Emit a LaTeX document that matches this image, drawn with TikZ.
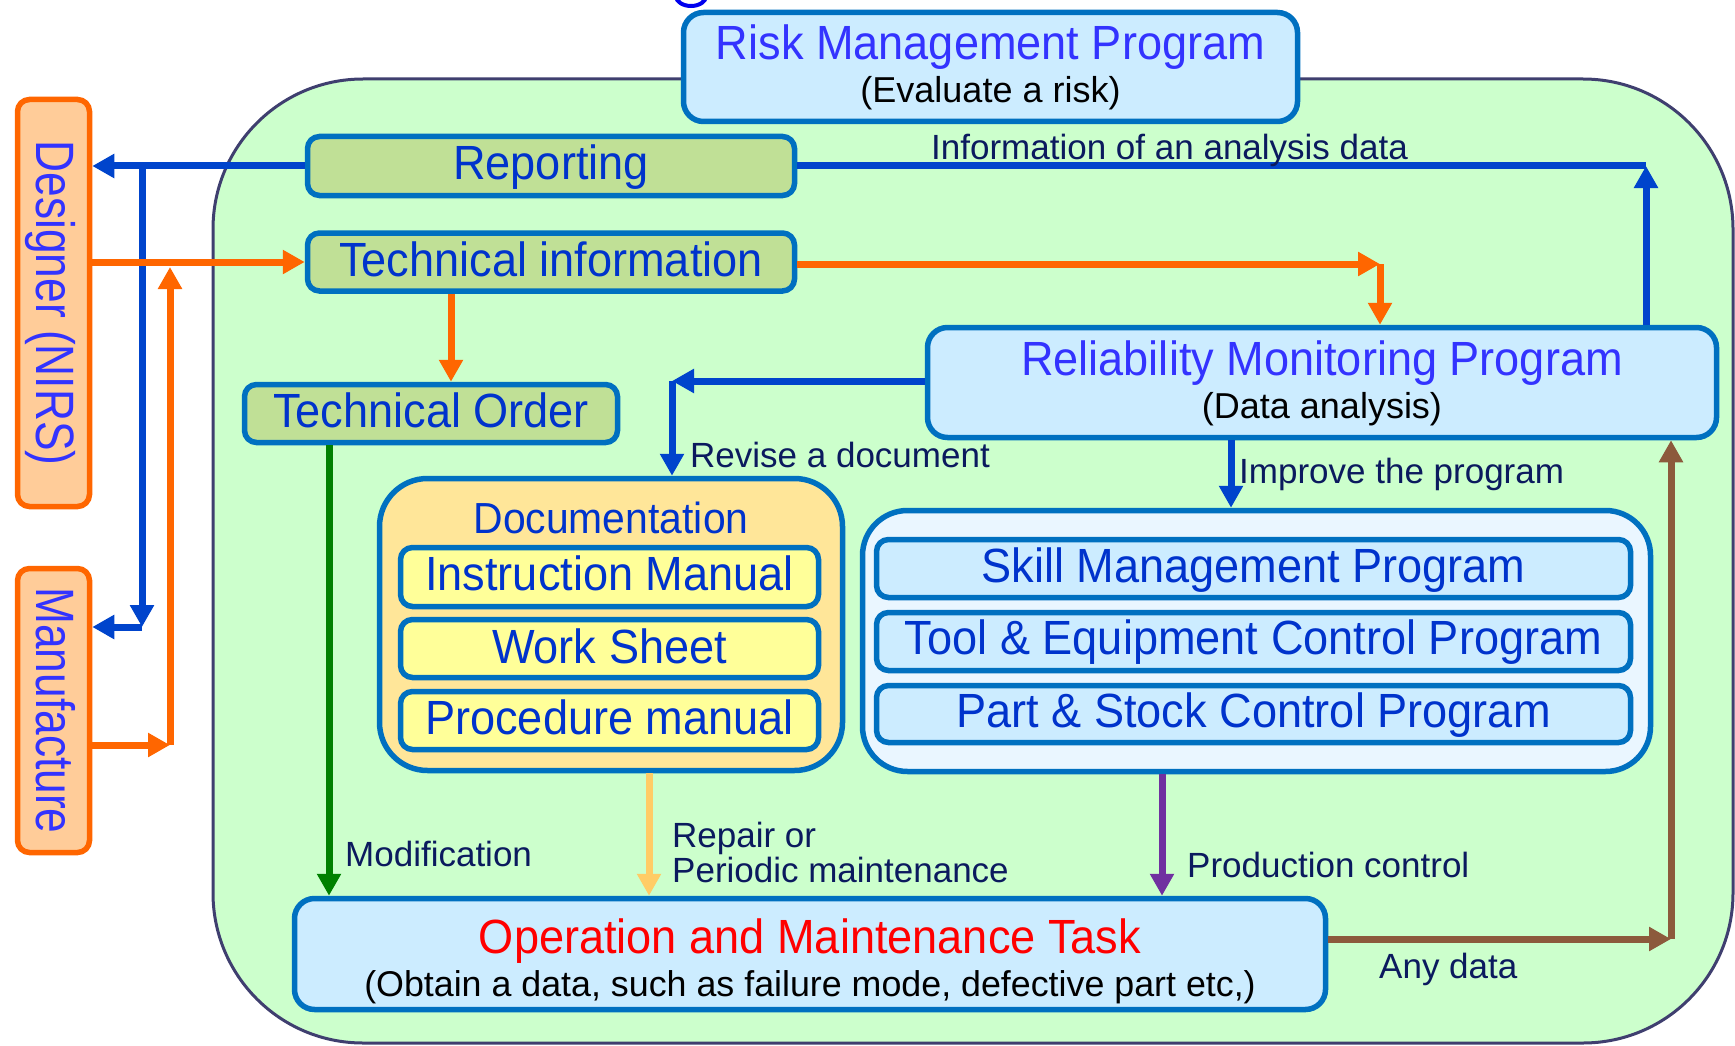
\documentclass[tikz,border=0pt]{standalone}
\usepackage{fontspec}
\setmainfont{Liberation Sans}
\newfontfamily\bigf{Liberation Sans}[FakeStretch=0.94]
\newfontfamily\rotf{Liberation Sans}[FakeStretch=0.82]
\usetikzlibrary{arrows.meta}
\definecolor{bgfill}{HTML}{CCFFCC}
\definecolor{bgline}{HTML}{3F3F6F}
\definecolor{boxb}{HTML}{0070C0}
\definecolor{lblue}{HTML}{CCECFF}
\definecolor{lgreen}{HTML}{C0E096}
\definecolor{docfill}{HTML}{FFE699}
\definecolor{yel}{HTML}{FFFF99}
\definecolor{pale}{HTML}{EAF6FF}
\definecolor{peach}{HTML}{FFCC99}
\definecolor{orng}{HTML}{FF6600}
\definecolor{tblue}{HTML}{3333FF}
\definecolor{dblue}{HTML}{0033CC}
\definecolor{navyc}{HTML}{0B1A5E}
\definecolor{cblue}{HTML}{0044CC}
\definecolor{cgreen}{HTML}{008000}
\definecolor{lorng}{HTML}{FFCC66}
\definecolor{purp}{HTML}{7030A0}
\definecolor{brwn}{HTML}{8C5A3C}
\definecolor{arcblue}{HTML}{0000EE}
\begin{document}
\begin{tikzpicture}[x=1pt,y=-1pt,
  box/.style={draw=boxb, line width=5.5pt, rounded corners=12pt, inner sep=0pt, outer sep=2.75pt},
  obox/.style={draw=orng, fill=peach, line width=5.5pt, rounded corners=12pt, inner sep=0pt, outer sep=2.75pt},
  conn/.style={line width=7pt},
  arr/.style={-{Triangle[length=22pt,width=23pt]}},
  bigtxt/.style={anchor=base, inner sep=0pt, font=\bigf\fontsize{48}{52}\selectfont, text=dblue},
  subtxt/.style={anchor=base, inner sep=0pt, font=\fontsize{36}{40}\selectfont, text=black},
  lbl/.style={anchor=base west, inner sep=0pt, font=\fontsize{35}{38}\selectfont, text=navyc},
  rottxt/.style={anchor=base, inner sep=0pt, rotate=-90, font=\rotf\fontsize{54}{58}\selectfont, text=tblue}]
\useasboundingbox (0,0) rectangle (1735,1046);
\begin{scope}
\clip (0,0) rectangle (1735,1046);
\draw[arcblue, line width=4pt] (691,-4) ellipse [x radius=15pt, y radius=10pt];
\end{scope}
% background
\draw[bgline, fill=bgfill, line width=3pt, rounded corners=150pt] (213,79) rectangle (1733,1043);
% boxes
\node[box, fill=lblue, rounded corners=20pt, minimum width=614pt, minimum height=109pt] (risk) at (990.5,67) {};
\node[box, fill=lgreen, minimum width=487pt, minimum height=59pt] (reporting) at (551,166) {};
\node[box, fill=lgreen, minimum width=487pt, minimum height=58pt] (techinfo) at (551,262) {};
\node[box, fill=lgreen, minimum width=373pt, minimum height=58pt] (techorder) at (431,413.5) {};
\node[obox, minimum width=72pt, minimum height=407pt] (designer) at (53.5,303) {};
\node[obox, minimum width=72pt, minimum height=284pt] (manu) at (53.5,710.5) {};
\node[box, fill=lblue, rounded corners=20pt, minimum width=789pt, minimum height=110pt] (rel) at (1322,382.5) {};
\node[box, fill=docfill, rounded corners=48pt, minimum width=463pt, minimum height=292pt] (doc) at (611,624.5) {};
\node[box, fill=yel, minimum width=418pt, minimum height=59pt] (instr) at (609.5,577) {};
\node[box, fill=yel, minimum width=418pt, minimum height=58pt] (works) at (609.5,648.5) {};
\node[box, fill=yel, minimum width=418pt, minimum height=58pt] (proc) at (609.5,720.5) {};
\node[box, fill=pale, rounded corners=45pt, minimum width=788pt, minimum height=261pt] (grp) at (1256.5,641) {};
\node[box, fill=lblue, minimum width=754pt, minimum height=58pt] (skill) at (1253.5,568.5) {};
\node[box, fill=lblue, minimum width=754pt, minimum height=58pt] (tool) at (1253.5,641.5) {};
\node[box, fill=lblue, minimum width=754pt, minimum height=57pt] (part) at (1253.5,714) {};
\node[box, fill=lblue, rounded corners=20pt, minimum width=1031pt, minimum height=111pt] (op) at (810,954) {};
% texts in boxes
\node[bigtxt, text=tblue] (riskt) at (990.5,60) {Risk Management Program};
\node[subtxt] (risks) at (990.5,103) {(Evaluate a risk)};
\node[bigtxt] (reportingt) at (551,179) {Reporting};
\node[bigtxt] (techinfot) at (551,276) {Technical information};
\node[bigtxt] (techordert) at (431,427) {Technical Order};
\node[rottxt] (designert) at (36,303) {Designer (NIRS)};
\node[rottxt] (manut) at (36,710.5) {Manufacture};
\node[bigtxt, text=tblue] (relt) at (1322,375) {Reliability Monitoring Program};
\node[subtxt] (rels) at (1322,418) {(Data analysis)};
\node[bigtxt, font=\bigf\fontsize{43.5}{46}\selectfont] (doct) at (611,533) {Documentation};
\node[bigtxt] (instrt) at (609.5,590) {Instruction Manual};
\node[bigtxt] (workst) at (609.5,663) {Work Sheet};
\node[bigtxt] (proct) at (609.5,734) {Procedure manual};
\node[bigtxt] (skillt) at (1253.5,582) {Skill Management Program};
\node[bigtxt] (toolt) at (1253.5,654) {Tool \& Equipment Control Program};
\node[bigtxt] (partt) at (1253.5,727) {Part \& Stock Control Program};
\node[bigtxt, text=red] (opt) at (810,953.5) {Operation and Maintenance Task};
\node[subtxt, font=\fontsize{35.8}{40}\selectfont] (ops) at (810,996.5) {(Obtain a data, such as failure mode, defective part etc,)};
% coordinates
\coordinate (bj) at (142,166);
\coordinate (bd) at (142,627);
\coordinate (mo) at (170,745);
\coordinate (mu) at (170,267);
\coordinate (ta) at (451,0);
\coordinate (tr) at (1380,264);
\coordinate (rr) at (1646,166);
\coordinate (rd) at (672,381);
\coordinate (rg) at (1231,0);
\coordinate (tg) at (329,0);
\coordinate (dg) at (649,0);
\coordinate (pg) at (1162,0);
\coordinate (ob) at (1671,939);
% connectors
\draw[conn, cblue, arr] (reporting.west) -- (reporting.west -| designer.east);
\draw[conn, cblue, arr] (bj) -- (bd);
\draw[conn, cblue, arr] (bd) -- (bd -| manu.east);
\draw[conn, orng, arr] (techinfo.west -| designer.east) -- (techinfo.west);
\draw[conn, orng, arr] (mo -| manu.east) -- (mo);
\draw[conn, orng, arr] (mo) -- (mu);
\draw[conn, orng, arr] (ta |- techinfo.south) -- (ta |- techorder.north);
\draw[conn, orng, arr] (techinfo.east |- tr) -- (tr);
\draw[conn, orng, arr] (tr) -- (tr |- rel.north);
\draw[conn, cblue] (rr) -- (reporting.east |- rr);
\draw[conn, cblue, arr] (rr |- rel.north) -- (rr);
\draw[conn, cblue, arr] (rel.west |- rd) -- (rd);
\draw[conn, cblue, arr] (rd) -- (rd |- doc.north);
\draw[conn, cblue, arr] (rg |- rel.south) -- (rg |- grp.north);
\draw[conn, cgreen, arr] (tg |- techorder.south) -- (tg |- op.north);
\draw[conn, lorng, arr] (dg |- doc.south) -- (dg |- op.north);
\draw[conn, purp, arr] (pg |- grp.south) -- (pg |- op.north);
\draw[conn, brwn, arr] (op.east |- ob) -- (ob);
\draw[conn, brwn, arr] (ob) -- (ob |- rel.south);
% labels
\node[lbl] (l1) at (931,160) {Information of an analysis data};
\node[lbl] (l2) at (690,467) {Revise a document};
\node[lbl] (l3) at (1239,483) {Improve the program};
\node[lbl] (l4) at (345,866) {Modification};
\node[lbl] (l5) at (672,847) {Repair or};
\node[lbl] (l6) at (672,882) {Periodic maintenance};
\node[lbl] (l7) at (1187,877) {Production control};
\node[lbl] (l8) at (1379,978) {Any data};
\end{tikzpicture}
\end{document}
